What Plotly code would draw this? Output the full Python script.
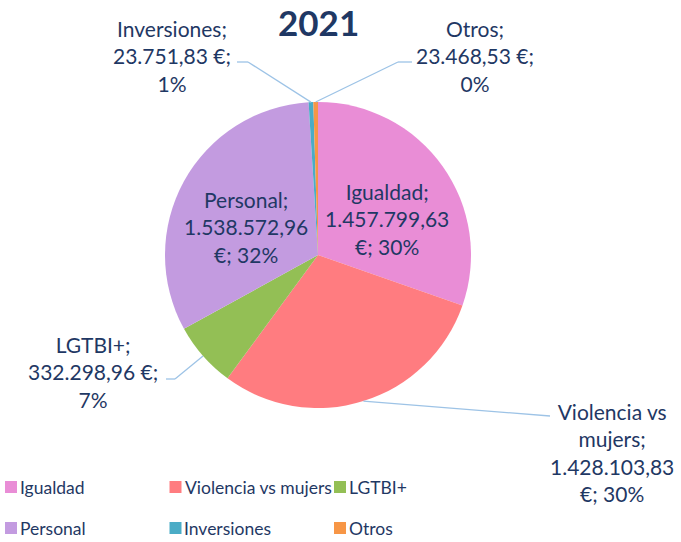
import plotly.graph_objects as go
import math

categories = ["Igualdad", "Violencia vs mujers", "LGTBI+", "Personal", "Inversiones", "Otros"]
values = [1457799.63, 1428103.83, 332298.96, 1538572.96, 23751.83, 23468.53]
pct_labels = ["30%", "30%", "7%", "32%", "1%", "0%"]
colors = ["#E98DD6", "#FF7C80", "#93BF55", "#C39BE0", "#4BACC6", "#F79646"]
title_text = "2021"

W, H = 681, 542
CX, CY, R = 318, 255, 153
TXT = "#1F3864"
FONT = "Lato"

def fmt_es(v):
    s = f"{v:,.2f}"
    return s.replace(",", "X").replace(".", ",").replace("X", ".")

fig = go.Figure()
fig.add_trace(go.Pie(
    labels=categories, values=values, sort=False, direction="clockwise", rotation=0,
    marker=dict(colors=colors, line=dict(width=0)),
    textinfo="none", hoverinfo="label+value+percent",
    domain=dict(x=[(CX - R) / W, (CX + R) / W], y=[(H - CY - R) / H, (H - CY + R) / H]),
    showlegend=False,
))

def label_text(i):
    v = fmt_es(values[i])
    c = categories[i]
    if c == "Violencia vs mujers":
        return f"Violencia vs<br>mujers;<br>{v}<br>€; {pct_labels[i]}"
    if c in ("Igualdad", "Personal"):
        return f"{c};<br>{v}<br>€; {pct_labels[i]}"
    return f"{c};<br>{v} €;<br>{pct_labels[i]}"

# label centres (pixels) and leader elbows (pixels) - layout
label_pos = {
    "Igualdad": (387, 219, None),
    "Violencia vs mujers": (612, 452, [(550, 416)]),
    "LGTBI+": (93, 372, [(175, 379), (166, 379)]),
    "Personal": (246, 227, None),
    "Inversiones": (172, 56, [(248, 62), (237, 62)]),
    "Otros": (475, 56, [(398, 62), (412, 62)]),
}

def px(x, y):
    return x / W, 1 - y / H

total = sum(values)
cum = 0.0
annotations = []
shapes = []
for i, c in enumerate(categories):
    frac_mid = (cum + values[i] / 2) / total
    cum += values[i]
    ang = 2 * math.pi * frac_mid
    ex, ey = CX + R * math.sin(ang), CY - R * math.cos(ang)
    lx, ly, elbows = label_pos[c]
    ax, ay = px(lx, ly)
    annotations.append(dict(x=ax, y=ay, xref="paper", yref="paper", text=label_text(i),
                            showarrow=False, xanchor="center", yanchor="middle", align="center",
                            font=dict(family=FONT, size=21, color=TXT)))
    if elbows:
        pts = [(ex, ey)] + elbows
        for (x0, y0), (x1, y1) in zip(pts[:-1], pts[1:]):
            a0, b0 = px(x0, y0)
            a1, b1 = px(x1, y1)
            shapes.append(dict(type="line", xref="paper", yref="paper", x0=a0, y0=b0, x1=a1, y1=b1,
                               line=dict(color="#9DC3E6", width=1.3)))

# legend (2 rows x 3 columns)
LEG_X0, LEG_DX, LEG_Y = 5, 164.5, [487, 528]
for i, c in enumerate(categories):
    row, col = divmod(i, 3)
    x0 = LEG_X0 + col * LEG_DX
    yc = LEG_Y[row]
    a0, b0 = px(x0, yc - 6)
    a1, b1 = px(x0 + 12, yc + 6)
    shapes.append(dict(type="rect", xref="paper", yref="paper", x0=a0, y0=b0, x1=a1, y1=b1,
                       fillcolor=colors[i], line=dict(width=0)))
    tx, ty = px(x0 + 13, yc)
    annotations.append(dict(x=tx, y=ty, xref="paper", yref="paper", text=c, showarrow=False,
                            xanchor="left", yanchor="middle", align="left",
                            font=dict(family=FONT, size=17.5, color=TXT)))

annotations.append(dict(x=318 / W, y=1 - 22 / H, xref="paper", yref="paper", text=f"<b>{title_text}</b>",
                        showarrow=False, xanchor="center", yanchor="middle",
                        font=dict(family=FONT, size=35, color=TXT)))

fig.update_layout(
    width=W, height=H, margin=dict(l=0, r=0, t=0, b=0),
    paper_bgcolor="white", plot_bgcolor="white",
    annotations=annotations, shapes=shapes, showlegend=False,
)

fig.write_html("out.html", config={"displayModeBar": False},
               post_script="document.body.style.margin='0px';document.body.style.overflow='hidden';")
